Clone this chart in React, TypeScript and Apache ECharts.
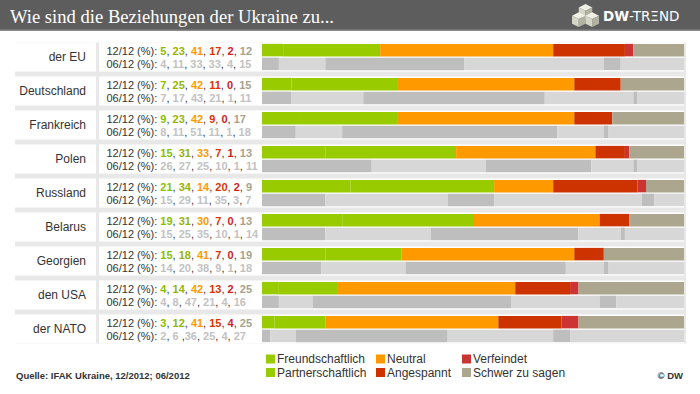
import React, { useEffect, useRef } from "react";
import * as echarts from "echarts";

// ---- data ----
const countries = ["der EU", "Deutschland", "Frankreich", "Polen", "Russland", "Belarus", "Georgien", "den USA", "der NATO"];
const answerNames = ["Freundschaftlich", "Partnerschaftlich", "Neutral", "Angespannt", "Verfeindet", "Schwer zu sagen"];
const survey1212 = [
  [5, 23, 41, 17, 2, 12],
  [7, 25, 42, 11, 0, 15],
  [9, 23, 42, 9, 0, 17],
  [15, 31, 33, 7, 1, 13],
  [21, 34, 14, 20, 2, 9],
  [19, 31, 30, 7, 0, 13],
  [15, 18, 41, 7, 0, 19],
  [4, 14, 42, 13, 2, 25],
  [3, 12, 41, 15, 4, 25],
];
const survey0612 = [
  [4, 11, 33, 33, 4, 15],
  [7, 17, 43, 21, 1, 11],
  [8, 11, 51, 11, 1, 18],
  [26, 27, 25, 10, 1, 11],
  [15, 29, 11, 35, 3, 7],
  [15, 25, 35, 10, 1, 14],
  [14, 20, 38, 9, 1, 18],
  [4, 8, 47, 21, 4, 16],
  [2, 6, 36, 25, 4, 27],
];
const periodLabels = ["12/12 (%): ", "06/12 (%): "];
const separators0612: Record<string, string[]> = { "der NATO": [", ", " ,", ", ", ", ", ", "] };
const titleText = "Wie sind die Beziehungen der Ukraine zu...";
const sourceText = "Quelle: IFAK Ukraine, 12/2012; 06/2012";

// ---- styles ----
const SANS = "Liberation Sans, Arial, sans-serif";
const colors1212 = ["#99cc00", "#99cc00", "#ff9900", "#cc3300", "#cc3333", "#aca68e"];
const colors0612 = ["#bebebe", "#d7d7d7", "#bebebe", "#d7d7d7", "#bebebe", "#d7d7d7"];
const numColors = ["#88c000", "#99b400", "#ff9900", "#dd3300", "#cc2222", "#a8a28c"];

const GRID_LEFT = 262;
const GRID_RIGHT_X = 684;
const GRID_TOP = 40;
const PITCH = 34;

function cube(cx: number, t: number, w: number, h: number) {
  return [
    { type: "polygon", shape: { points: [[cx, t], [cx + w, t + w / 2], [cx, t + w], [cx - w, t + w / 2]] }, style: { fill: "#efefe6" }, z: 1 },
    { type: "polygon", shape: { points: [[cx - w, t + w / 2], [cx, t + w], [cx, t + w + h], [cx - w, t + w / 2 + h]] }, style: { fill: "#d6d6c8" }, z: 1 },
    { type: "polygon", shape: { points: [[cx, t + w], [cx + w, t + w / 2], [cx + w, t + w / 2 + h], [cx, t + w + h]] }, style: { fill: "#b2b2a2" }, z: 1 },
  ];
}

export default function App() {
  const ref = useRef<HTMLDivElement>(null);
  useEffect(() => {
    if (!ref.current) return;
    const chart = echarts.init(ref.current, undefined, { renderer: "svg" });

    const graphics: any[] = [];
    graphics.push({ type: "rect", shape: { x: 0, y: 0, width: 700, height: 30 }, style: { fill: "#5d5d5d" }, z: 0 });
    graphics.push({ type: "rect", shape: { x: 0, y: 29.5, width: 700, height: 1.5 }, style: { fill: "#8a8a8a" }, z: 0 });
    graphics.push({ type: "text", x: 10, y: 16, style: { text: titleText, fill: "#ffffff", font: "18.6px 'Liberation Serif', serif", verticalAlign: "middle" }, z: 1 });
    // logo
    const cw = 6.75, ch = 8;
    graphics.push(...cube(585.5, 4, cw, ch));
    graphics.push(...cube(578.75, 12.25, cw, ch));
    graphics.push(...cube(592.25, 12.25, cw, ch));
    graphics.push({
      type: "text", x: 603, y: 16,
      style: {
        text: "{b|DW}{n|-TR\u039eND}", verticalAlign: "middle", fill: "#fff",
        rich: {
          b: { fontFamily: "DejaVu Sans", fontWeight: "bold", fontSize: 13.5, fill: "#fff" },
          n: { fontFamily: "DejaVu Sans", fontSize: 13.5, fill: "#fff" },
        },
      },
      z: 1,
    });
    // rows background
    const firstTop = GRID_TOP + 2.5;
    const rowH = 29;
    graphics.push({ type: "rect", shape: { x: 15, y: firstTop, width: 671, height: PITCH * (countries.length - 1) + rowH }, style: { fill: "#e8e8e8" }, z: 0 });
    countries.forEach((_, i) => {
      const y = firstTop + PITCH * i;
      graphics.push({ type: "rect", shape: { x: 15, y, width: 81, height: rowH }, style: { fill: "#fff" }, z: 0 });
      graphics.push({ type: "rect", shape: { x: 99, y, width: GRID_RIGHT_X - 99, height: rowH }, style: { fill: "#fff" }, z: 0 });
    });
    graphics.push({ type: "text", x: 16, y: 375, style: { text: sourceText, fill: "#333", font: `bold 9.5px ${SANS}`, verticalAlign: "middle" }, z: 1 });
    graphics.push({ type: "text", x: 683, y: 375, style: { text: "\u00a9 DW", fill: "#333", font: `bold 9.5px ${SANS}`, verticalAlign: "middle", align: "right" }, z: 1 });

    const rich: any = {
      t: { fontSize: 11, color: "#333", fontFamily: SANS, lineHeight: 13 },
      g: { fontSize: 11, color: "#c2c2c2", fontWeight: "bold", fontFamily: SANS, lineHeight: 13 },
    };
    numColors.forEach((c, k) => {
      rich["c" + k] = { fontSize: 11, color: c, fontWeight: "bold", fontFamily: SANS, lineHeight: 13 };
    });

    const textFormatter = (value: string) => {
      const idx = countries.indexOf(value);
      const a = survey1212[idx];
      const b = survey0612[idx];
      const sepB = separators0612[value] || [", ", ", ", ", ", ", ", ", "];
      const l1 = `{t|${periodLabels[0]}}` + a.map((n, k) => `{c${k}|${n}}` + (k < a.length - 1 ? "{t|, }" : "")).join("");
      const l2 = `{t|${periodLabels[1]}}` + b.map((n, k) => `{g|${n}}` + (k < b.length - 1 ? `{t|${sepB[k]}}` : "")).join("");
      return l1 + "\n" + l2;
    };

    const common = { type: "bar", barWidth: 12.5, barGap: "10%", silent: true, z: 5 };
    const series: any[] = [
      ...answerNames.map((name, k) => ({
        ...common, name, stack: "dec12",
        data: survey1212.map((r) => r[k]),
        itemStyle: { color: colors1212[k] },
      })),
      ...answerNames.map((name, k) => ({
        ...common, name: "06/12 " + name, stack: "jun12",
        data: survey0612.map((r) => r[k]),
        itemStyle: { color: colors0612[k] },
      })),
    ];

    const legendBase = {
      orient: "vertical", top: 353, padding: 0, itemWidth: 9, itemHeight: 9, itemGap: 1.5, icon: "rect",
      selectedMode: false,
      textStyle: { fontSize: 12, color: "#333", fontFamily: SANS, lineHeight: 12, padding: [0, 0, 0, -3] },
    };

    chart.setOption({
      animation: false,
      grid: { left: GRID_LEFT, right: 700 - GRID_RIGHT_X, top: GRID_TOP, height: PITCH * countries.length, containLabel: false },
      xAxis: { type: "value", min: 0, max: 100, show: false },
      yAxis: [
        {
          type: "category", data: countries, inverse: true, z: 10,
          axisLine: { show: false }, axisTick: { show: false }, splitLine: { show: false },
          axisLabel: { margin: GRID_LEFT - 86, fontSize: 12, color: "#333", fontFamily: SANS },
        },
        {
          type: "category", data: countries, inverse: true, position: "left", z: 10,
          axisLine: { show: false }, axisTick: { show: false }, splitLine: { show: false },
          axisLabel: { margin: GRID_LEFT - 106.5, align: "left", formatter: textFormatter, rich },
        },
      ],
      legend: [
        { ...legendBase, left: 266, data: answerNames.slice(0, 2) },
        { ...legendBase, left: 376, data: answerNames.slice(2, 4) },
        { ...legendBase, left: 462, data: answerNames.slice(4, 6) },
      ],
      graphic: { elements: graphics },
      series,
    });
    return () => chart.dispose();
  }, []);
  return <div ref={ref} style={{ position: "fixed", left: 0, top: 0, width: 700, height: 394, background: "#fff" }} />;
}
